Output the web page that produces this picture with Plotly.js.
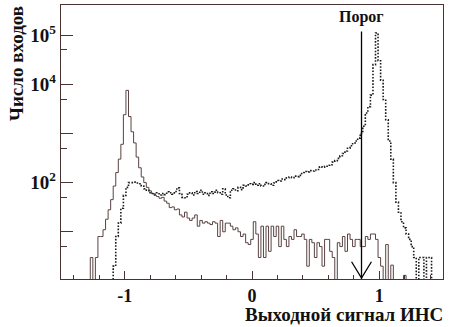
<!DOCTYPE html>
<html>
<head>
<meta charset="utf-8">
<script src="https://cdn.plot.ly/plotly-3.0.1.min.js"></script>
<style>html,body{margin:0;padding:0;background:#fff;}#chart{width:449px;height:327px;}</style>
</head>
<body>
<div id="chart"></div>
<script>
// Histogram binning
const binWidth = 0.02;
const solidStart = -1.29;   // left edge of first bin (solid histogram)
const dottedStart = -1.11;  // left edge of first bin (dotted histogram)

// Solid histogram (peak near -1)
const solidCounts = [
  0, 3, 0, 3, 8, 8, 11, 18, 28, 45,
  85, 160, 300, 600, 2400, 7500, 2200, 1080, 640, 330,
  200, 130, 100, 80, 68, 60, 55, 52, 48, 50,
  42, 38, 31, 32, 28, 29, 22, 20, 25, 19,
  17, 19, 22, 13, 17, 15, 16, 15, 14, 16,
  15, 8, 17, 10, 15, 15, 13, 11, 12, 10,
  8, 9, 6, 5.5, 7, 16, 9, 3, 13, 3,
  13, 4, 13, 8, 13, 5, 13, 7, 5, 8,
  7, 11, 8, 8, 9, 7, 2, 7, 6, 3,
  6, 5, 2, 7, 7, 4, 3, 1, 6, 5,
  8, 4, 9, 7, 5, 7, 7, 5, 5, 8,
  7, 9, 9, 7, 3, 2, 0, 5.5, 0, 2.1,
  0, 0, 0, 0, 1.3, 0
];

// Dotted histogram (peak near +1)
const dottedCounts = [
  0, 2, 8, 15, 30, 55, 80, 100, 100, 102,
  98, 95, 85, 75, 70, 62, 60, 58, 62, 56,
  60, 57, 65, 62, 58, 66, 78, 60, 50, 49,
  58, 62, 56, 66, 60, 70, 58, 62, 55, 65,
  60, 70, 62, 58, 75, 56, 49, 70, 75, 68,
  80, 72, 88, 85, 95, 92, 100, 88, 95, 85,
  92, 100, 95, 88, 98, 110, 108, 118, 115, 125,
  130, 125, 135, 132, 140, 160, 168, 165, 175, 172,
  180, 185, 210, 205, 215, 225, 230, 260, 280, 310,
  350, 390, 440, 500, 560, 640, 700, 800, 1000, 1400,
  2600, 3500, 6000, 25000, 110000, 30000, 12000, 4900, 1900, 700,
  300, 100, 40, 25, 16, 12, 9, 7, 5, 3,
  0, 3, 3, 0, 3, 3, 0
];

// Axis ticks
const xTickVals = [-1, 0, 1];
const xTickText = ['-1', '0', '1'];
const yLabelVals = [100, 10000, 100000];
const yLabelText = ['10<sup>2</sup>', '10<sup>4</sup>', '10<sup>5</sup>'];
const yUnlabeledVals = [10, 1000];
const yMinorVals = [5, 50, 500, 5000, 50000];

// Threshold marker
const threshold = 0.86;
const thresholdLabel = 'Порог';
const xTitle = 'Выходной сигнал ИНС';
const yTitle = 'Число входов';

const FLOOR = 0.2; // empty bins drop below the axis
function stepTrace(start, counts) {
  const xs = [start], ys = [FLOOR];
  for (let i = 0; i < counts.length; i++) {
    xs.push(+(start + i * binWidth).toFixed(4));
    ys.push(counts[i] > 0 ? counts[i] : FLOOR);
  }
  xs.push(+(start + counts.length * binWidth).toFixed(4));
  ys.push(FLOOR);
  return {xs, ys};
}

const s = stepTrace(solidStart, solidCounts);
const d = stepTrace(dottedStart, dottedCounts);
const axisColor = '#4a3232';
const serif = 'Liberation Serif, Times New Roman, serif';
const yRange = [0.04, 5.61];

const traces = [
  {x: s.xs, y: s.ys, type: 'scatter', mode: 'lines', line: {shape: 'hv', color: '#5a4242', width: 1}, hoverinfo: 'skip'},
  {x: d.xs, y: d.ys, type: 'scatter', mode: 'lines', line: {shape: 'hv', color: '#1a1a1a', width: 1.6, dash: '1.6px,1.6px'}, hoverinfo: 'skip'},
  // threshold vertical line
  {x: [threshold, threshold], y: [Math.pow(10, 5.07), FLOOR], type: 'scatter', mode: 'lines', line: {color: '#000', width: 1.3}, hoverinfo: 'skip'},
  // open arrow head
  {x: [threshold - 0.078, threshold, threshold + 0.078], y: [Math.pow(10, 0.39), Math.pow(10, 0.06), Math.pow(10, 0.39)], type: 'scatter', mode: 'lines', line: {color: '#000', width: 1.3}, hoverinfo: 'skip'},
  // invisible trace carrying the unlabeled-decade tick axis
  {x: [0], y: [100], yaxis: 'y2', type: 'scatter', mode: 'markers', marker: {opacity: 0}, hoverinfo: 'skip'}
];

const layout = {
  width: 449, height: 327,
  margin: {l: 61, r: 6, t: 5, b: 48},
  paper_bgcolor: '#fff', plot_bgcolor: '#fff',
  showlegend: false,
  xaxis: {
    range: [-1.5, 1.5], tickmode: 'array', tickvals: xTickVals, ticktext: xTickText,
    ticks: 'inside', ticklen: 8, tickwidth: 1, tickcolor: axisColor,
    showline: true, linecolor: axisColor, linewidth: 1.2, mirror: true,
    showgrid: false, zeroline: false,
    tickfont: {family: serif, size: 18, color: '#111', weight: 'bold'},
    minor: {tickmode: 'linear', tick0: 0, dtick: 0.2, ticks: 'inside', ticklen: 4, tickwidth: 1, tickcolor: axisColor, showgrid: false}
  },
  yaxis: {
    type: 'log', range: yRange, tickmode: 'array', tickvals: yLabelVals, ticktext: yLabelText,
    ticks: 'inside', ticklen: 12, tickwidth: 1, tickcolor: axisColor,
    showline: true, linecolor: axisColor, linewidth: 1.2, mirror: true,
    showgrid: false, zeroline: false,
    tickfont: {family: serif, size: 19, color: '#111', weight: 'bold'},
    minor: {tickmode: 'array', tickvals: yMinorVals, ticks: 'inside', ticklen: 6, tickwidth: 1, tickcolor: axisColor, showgrid: false}
  },
  yaxis2: {
    type: 'log', range: yRange, overlaying: 'y', side: 'left', tickmode: 'array', tickvals: yUnlabeledVals,
    ticks: 'inside', ticklen: 12, tickwidth: 1, tickcolor: axisColor, showticklabels: false,
    showline: false, showgrid: false, zeroline: false
  },
  annotations: [
    {text: xTitle, xref: 'paper', yref: 'paper', x: 1.005, y: -0.131, xanchor: 'right', yanchor: 'middle', showarrow: false,
     font: {family: serif, size: 19, color: '#111', weight: 'bold'}},
    {text: yTitle, xref: 'paper', yref: 'paper', x: -0.118, y: 1.005, xanchor: 'center', yanchor: 'top', textangle: -90, showarrow: false,
     font: {family: serif, size: 19, color: '#111', weight: 'bold'}},
    {text: thresholdLabel, xref: 'x', yref: 'paper', x: threshold, y: 0.956, xanchor: 'center', yanchor: 'middle', showarrow: false,
     font: {family: serif, size: 16, color: '#111', weight: 'bold'}}
  ]
};

Plotly.newPlot('chart', traces, layout, {displayModeBar: false, staticPlot: true});
</script>
</body>
</html>
